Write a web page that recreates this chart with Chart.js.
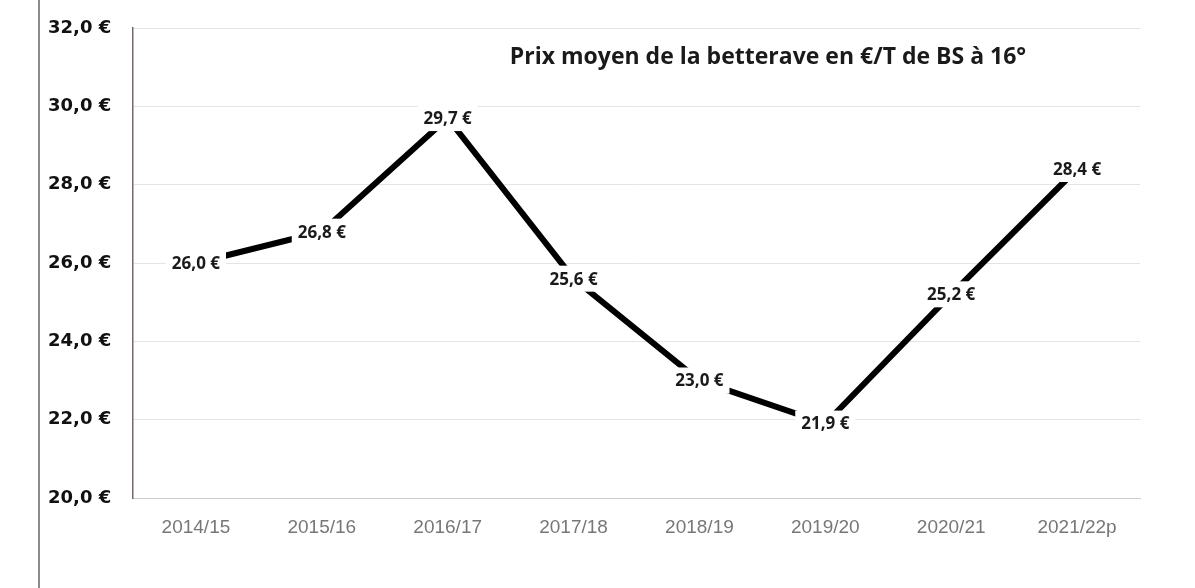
<!DOCTYPE html>
<html><head><meta charset="utf-8">
<script src="https://cdn.jsdelivr.net/npm/chart.js@4"></script>
<style>
html,body{margin:0;padding:0;background:#fff;}
#wrap{position:relative;width:1195px;height:588px;}
#edge{position:absolute;left:38px;top:0;width:2px;height:588px;background:#8c8c8c;}
canvas{position:absolute;left:0;top:0;}
</style></head><body>
<div id="wrap"><canvas id="c" width="1195" height="588"></canvas><div id="edge"></div></div>
<script>
const categories = ["2014/15","2015/16","2016/17","2017/18","2018/19","2019/20","2020/21","2021/22p"];
const prices = [26.0, 26.8, 29.7, 25.6, 23.0, 21.9, 25.2, 28.4];
const chartTitle = "Prix moyen de la betterave en €/T de BS à 16°";
const yTicks = [20, 22, 24, 26, 28, 30, 32];

const fmt = v => v.toFixed(1).replace('.', ',') + ' €';

const labelPlugin = {
  id: 'labels',
  afterDatasetsDraw(chart) {
    const ctx = chart.ctx;
    const meta = chart.getDatasetMeta(0);
    ctx.save();
    ctx.font = 'bold 17px "Open Sans"';
    ctx.textAlign = 'center';
    ctx.textBaseline = 'middle';
    meta.data.forEach((pt, i) => {
      const t = fmt(prices[i]);
      const w = ctx.measureText(t).width;
      ctx.fillStyle = '#fff';
      ctx.fillRect(pt.x - w/2 - 6, pt.y - 13, w + 12, 26);
      ctx.fillStyle = '#1a1a1a';
      ctx.fillText(t, pt.x, pt.y + 1);
    });
    // title
    ctx.font = 'bold 23px "Open Sans"';
    ctx.textAlign = 'center';
    ctx.fillStyle = '#1a1a1a';
    ctx.fillText(chartTitle, 768, 57);
    ctx.restore();
  }
};

new Chart(document.getElementById('c'), {
  type: 'line',
  data: {
    labels: categories,
    datasets: [{
      data: prices,
      borderColor: '#000',
      borderWidth: 6,
      pointRadius: 0,
      tension: 0,
      fill: false
    }]
  },
  options: {
    responsive: false,
    animation: false,
    devicePixelRatio: 1,
    layout: { padding: { left: 48, right: 55, top: 28, bottom: 0 } },
    plugins: { legend: { display: false }, tooltip: { enabled: false } },
    scales: {
      x: {
        offset: true,
        grid: { display: false, drawTicks: false },
        border: { color: '#cfcfcf', width: 1 },
        ticks: { color: '#777', font: { family: 'Liberation Sans', size: 19 }, padding: 18 },
        afterFit(s) { s.height = 90; }
      },
      y: {
        min: 20, max: 32,
        afterBuildTicks(s) { s.ticks = yTicks.map(v => ({ value: v })); },
        grid: { color: '#e4e4e4', lineWidth: 1, drawTicks: false },
        border: { color: '#7a6666', width: 1.5 },
        ticks: {
          color: '#111',
          font: { family: 'DejaVu Sans', weight: 'bold', size: 18 },
          padding: 4,
          crossAlign: 'far',
          callback: v => fmt(v)
        },
        afterFit(s) { s.width = 85; }
      }
    }
  },
  plugins: [labelPlugin]
});
</script>
</body></html>
